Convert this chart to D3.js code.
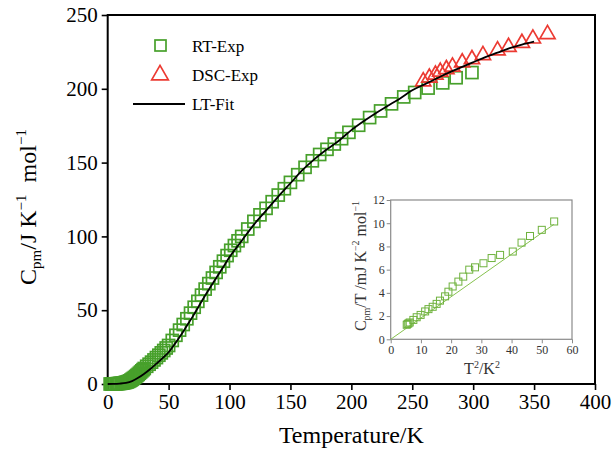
<!DOCTYPE html>
<html>
<head>
<meta charset="utf-8">
<script src="https://cdn.jsdelivr.net/npm/d3@7"></script>
<style>
  body { margin: 0; background: #fff; }
  text { font-family: "Liberation Serif", "Times New Roman", serif; }
</style>
</head>
<body>
<script>
//chart values
var xTicks = [0, 50, 100, 150, 200, 250, 300, 350, 400];
var yTicks = [0, 50, 100, 150, 200, 250];

//RT-Exp (adiabatic calorimetry)
var rtT = [2, 3, 4, 5, 6, 7, 8, 9, 10,
    11, 12, 13, 14, 15, 16, 17, 18, 19, 20,
    21, 22, 23, 24, 25, 26, 27, 28, 29, 30,
    32, 34, 36, 38, 40, 42, 44, 46, 48, 50,
    53, 56, 59, 62, 65, 68, 71, 74, 77, 80,
    83, 86, 89, 92, 95, 98, 101, 104, 107, 110,
    115, 120, 125, 130, 135, 140, 145, 150, 156, 162,
    168, 174, 180, 186, 192, 198, 206, 215, 224, 233,
    243, 252, 263, 275, 286, 299];
var rtCp = [0.003, 0.01, 0.03, 0.06, 0.1, 0.15, 0.22, 0.3, 0.4,
    0.5, 0.62, 0.76, 0.95, 1.15, 1.4, 1.7, 2.1, 2.6, 3.2,
    3.8, 4.4, 5.1, 5.8, 6.5, 7.3, 8.1, 8.9, 9.7, 10.5,
    12.0, 13.4, 14.8, 16.3, 17.9, 19.5, 21.1, 22.7, 24.4, 26.1,
    29.5, 33, 36.5, 40.3, 44.2, 48, 52, 56, 60.2, 64.3,
    68, 71.8, 75.6, 79.4, 83.2, 87, 90.6, 93.8, 97, 100,
    105, 110.2, 114.6, 119, 123.5, 128, 132.3, 136.6, 141.8, 146.8,
    151.2, 155.5, 159, 162.6, 166.2, 170.5, 175.3, 180.5, 185, 189.8,
    194.5, 197.5, 200.5, 204, 207.5, 211];

//DSC-Exp
var dscT = [259, 264, 269, 273, 278, 283, 291, 299, 308, 320, 329, 340, 349, 361];
var dscCp = [205, 207.5, 209.5, 211.5, 213.2, 215, 217.8, 220, 222.8, 226, 228.3, 231, 234, 237];

//LT-Fit
var fitT = [0, 5, 10, 15, 20, 25, 30, 35, 40, 45, 50, 55, 60, 65, 70, 75, 80, 85, 90, 95, 100,
    110, 120, 130, 140, 150, 160, 170, 180, 190, 200, 210, 220, 230, 240, 250,
    260, 270, 280, 290, 300, 310, 320, 330, 340, 350];
var fitCp = [0, 0.05, 0.3, 0.8, 2.0, 4.2, 7.0, 10.2, 13.8, 17.5, 21.5, 27, 33, 39.5, 46, 53, 60, 66.5, 73, 79.5, 86,
    97, 108, 117.5, 127, 136, 145, 152.5, 159, 165, 172, 178, 183.5, 188.5, 193.5, 199,
    203, 207, 211, 214.5, 218, 221.5, 224.5, 227.5, 230, 232];

//inset: Cp/T vs T^2
var insetXTicks = [0, 10, 20, 30, 40, 50, 60];
var insetYTicks = [0, 2, 4, 6, 8, 10, 12];
var insetT2 = [5.3, 5.6, 5.9, 6.3, 7.5, 8.6, 9.9, 11.4, 12.5, 13.9, 15.2, 16.3, 18, 19.1,
    20.5, 22.4, 24, 26, 27.9, 30.7, 33.4, 36.2, 40.4, 43.3, 46.1, 50, 54.1];
var insetCpT = [1.25, 1.32, 1.38, 1.45, 1.67, 1.9, 2.1, 2.4, 2.6, 2.8, 3.05, 3.33, 3.7, 4.1,
    4.55, 4.97, 5.4, 6.0, 6.2, 6.55, 7.0, 7.27, 7.56, 8.33, 8.9, 9.43, 10.15];
var insetFitX = [0, 54];
var insetFitY = [0, 9.9];

var width = 612,
    height = 457;

var svg = d3.select("body")
    .append("svg")
    .attr("width", width)
    .attr("height", height);

//main scales
var x = d3.scaleLinear().domain([0, 400]).range([107.7, 595]);
var y = d3.scaleLinear().domain([0, 250]).range([384, 15]);

var green = "#47a02b",
    red = "#ec3a32";

//axes
var xAxis = svg.append("g")
    .attr("transform", "translate(0," + y(0) + ")")
    .call(d3.axisBottom(x).tickValues(xTicks).tickSize(6).tickPadding(4));
var yAxis = svg.append("g")
    .attr("transform", "translate(" + x(0) + ",0)")
    .call(d3.axisLeft(y).tickValues(yTicks).tickSize(6).tickPadding(4));
[xAxis, yAxis].forEach(function(g){
    g.select(".domain").remove();
    g.selectAll("line").attr("stroke", "#000").attr("stroke-width", 1.6);
    g.selectAll("text")
        .attr("fill", "#000")
        .style("font-family", "Liberation Serif")
        .style("font-size", "21px");
});

//frame
svg.append("rect")
    .attr("x", x(0))
    .attr("y", y(250))
    .attr("width", x(400) - x(0))
    .attr("height", y(0) - y(250))
    .attr("fill", "none")
    .attr("stroke", "#000")
    .attr("stroke-width", 2);

//RT-Exp squares
var sq = 12;
svg.append("g").selectAll("rect")
    .data(rtT)
    .enter()
    .append("rect")
    .attr("x", function(d){ return x(d) - sq / 2; })
    .attr("y", function(d, i){ return y(rtCp[i]) - sq / 2; })
    .attr("width", sq)
    .attr("height", sq)
    .attr("fill", "none")
    .attr("stroke", green)
    .attr("stroke-width", 1.7);

//DSC triangles
var tri = d3.symbol().type(d3.symbolTriangle).size(100);
svg.append("g").selectAll("path")
    .data(dscT)
    .enter()
    .append("path")
    .attr("d", tri)
    .attr("transform", function(d, i){ return "translate(" + x(d) + "," + y(dscCp[i]) + ")"; })
    .attr("fill", "none")
    .attr("stroke", red)
    .attr("stroke-width", 1.7);

//fit line
var line = d3.line()
    .x(function(d){ return x(d); })
    .y(function(d, i){ return y(fitCp[i]); })
    .curve(d3.curveMonotoneX);
svg.append("path")
    .datum(fitT)
    .attr("d", line)
    .attr("fill", "none")
    .attr("stroke", "#000")
    .attr("stroke-width", 1.8);

//legend
var legend = svg.append("g").style("font-size", "17px");
legend.append("rect")
    .attr("x", 155).attr("y", 40).attr("width", 11).attr("height", 11)
    .attr("fill", "none").attr("stroke", green).attr("stroke-width", 1.7);
legend.append("path")
    .attr("d", d3.symbol().type(d3.symbolTriangle).size(120))
    .attr("transform", "translate(160,75)")
    .attr("fill", "none").attr("stroke", red).attr("stroke-width", 1.7);
legend.append("line")
    .attr("x1", 133).attr("x2", 185).attr("y1", 104).attr("y2", 104)
    .attr("stroke", "#000").attr("stroke-width", 1.8);
["RT-Exp", "DSC-Exp", "LT-Fit"].forEach(function(t, i){
    legend.append("text")
        .attr("x", 192)
        .attr("y", [46, 75, 104][i])
        .attr("dy", "0.35em")
        .text(t);
});

//axis titles
svg.append("text")
    .attr("x", x(200))
    .attr("y", 443)
    .attr("text-anchor", "middle")
    .style("font-size", "24px")
    .text("Temperature/K");

var yt = svg.append("text")
    .attr("transform", "translate(36,207) rotate(-90)")
    .attr("text-anchor", "middle")
    .style("font-size", "24px");
yt.append("tspan").text("C");
yt.append("tspan").attr("dy", 5).style("font-size", "15px").text("pm");
yt.append("tspan").attr("dy", -5).text("/J K");
yt.append("tspan").attr("dy", -10).style("font-size", "15px").text("\u22121");
yt.append("tspan").attr("dy", 10).text("\u2002mol");
yt.append("tspan").attr("dy", -10).style("font-size", "15px").text("\u22121");

//inset
var ix = d3.scaleLinear().domain([0, 60]).range([390.7, 572]);
var iy = d3.scaleLinear().domain([0, 12]).range([339.3, 200]);
var grey = "#8a8a8a";

var inset = svg.append("g");
var ixAxis = inset.append("g")
    .attr("transform", "translate(0," + iy(0) + ")")
    .call(d3.axisBottom(ix).tickValues(insetXTicks).tickSize(4).tickPadding(2));
var iyAxis = inset.append("g")
    .attr("transform", "translate(" + ix(0) + ",0)")
    .call(d3.axisLeft(iy).tickValues(insetYTicks).tickSize(4).tickPadding(2));
[ixAxis, iyAxis].forEach(function(g){
    g.select(".domain").remove();
    g.selectAll("line").attr("stroke", grey);
    g.selectAll("text")
        .attr("fill", "#333")
        .style("font-family", "Liberation Serif")
        .style("font-size", "12px");
});
inset.append("rect")
    .attr("x", ix(0)).attr("y", iy(12))
    .attr("width", ix(60) - ix(0)).attr("height", iy(0) - iy(12))
    .attr("fill", "none").attr("stroke", grey).attr("stroke-width", 1.2);

inset.append("path")
    .datum(insetFitX)
    .attr("d", d3.line()
        .x(function(d){ return ix(d); })
        .y(function(d, i){ return iy(insetFitY[i]); }))
    .attr("fill", "none")
    .attr("stroke", "#86c24e")
    .attr("stroke-width", 1);

var isq = 7;
inset.append("g").selectAll("rect")
    .data(insetT2)
    .enter()
    .append("rect")
    .attr("x", function(d){ return ix(d) - isq / 2; })
    .attr("y", function(d, i){ return iy(insetCpT[i]) - isq / 2; })
    .attr("width", isq)
    .attr("height", isq)
    .attr("fill", "none")
    .attr("stroke", "#6fb23e")
    .attr("stroke-width", 1);

var ixt = inset.append("text")
    .attr("x", 482).attr("y", 374)
    .attr("text-anchor", "middle")
    .attr("fill", "#333")
    .style("font-size", "16px");
ixt.append("tspan").text("T");
ixt.append("tspan").attr("dy", -6).style("font-size", "10px").text("2");
ixt.append("tspan").attr("dy", 6).text("/K");
ixt.append("tspan").attr("dy", -6).style("font-size", "10px").text("2");

var iyt = inset.append("text")
    .attr("transform", "translate(366,266) rotate(-90)")
    .attr("text-anchor", "middle")
    .attr("fill", "#333")
    .style("font-size", "16px");
iyt.append("tspan").text("C");
iyt.append("tspan").attr("dy", 4).style("font-size", "10px").text("pm");
iyt.append("tspan").attr("dy", -4).text("/T /mJ K");
iyt.append("tspan").attr("dy", -7).style("font-size", "10px").text("\u22122");
iyt.append("tspan").attr("dy", 7).text(" mol");
iyt.append("tspan").attr("dy", -7).style("font-size", "10px").text("\u22121");
</script>
</body>
</html>
